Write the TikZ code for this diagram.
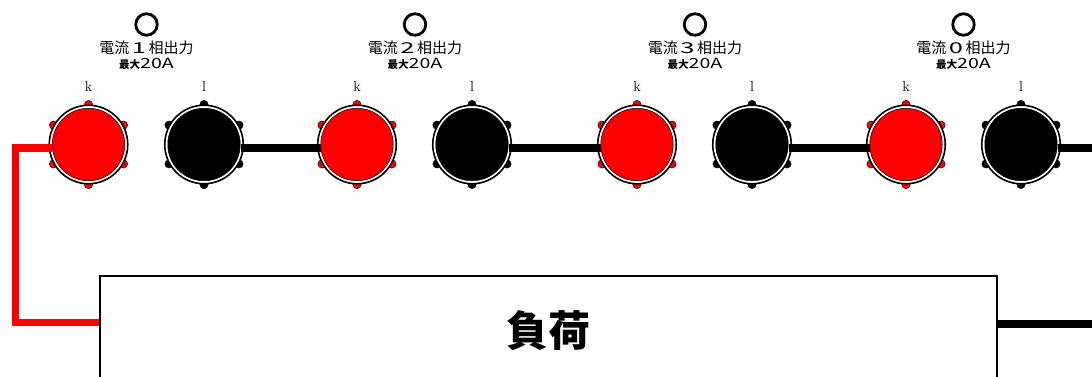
\documentclass[tikz,border=0pt]{standalone}
\usepackage{fontspec}
\newfontfamily\cjk{Noto Sans CJK JP}
\tikzset{
    lamp/.style={draw=black, line width=2.8pt, circle, inner sep=0pt, minimum size=21.5pt},
    rating/.style={inner sep=0pt, align=center, font=\cjk\fontsize{15}{16}\selectfont},
    maxamp/.style={inner sep=0pt, font=\cjk\fontsize{14}{15}\selectfont},
    polelabel/.style={inner sep=0pt, font=\fontsize{14.5}{15}\selectfont},
    ringface/.style={draw=black, line width=1.6pt, fill=white, circle, inner sep=0pt, minimum size=78.5pt},
    face/.style={draw=black, line width=0.5pt, circle, inner sep=0pt, minimum size=72.5pt},
    wire/.style={line width=7.6pt},
    loadbox/.style={draw=black, line width=1.3pt, fill=white, inner sep=0pt, minimum width=897pt, minimum height=110pt, font=\cjk\bfseries\fontsize{42}{43}\selectfont}
}
\newcommand{\terminal}[4]{%
    \foreach \ang in {29,90,151,209,270,331}
        \filldraw[draw=black, line width=0.4pt, fill=#3] (#2,144.5) ++(\ang:40pt) circle (4.2pt);
    \node[ringface] (#1o) at (#2,144.5) {};
    \node[face, fill=#3] (#1) at (#2,144.5) {};
    \node[polelabel] (#1t) at (#2,86) {#4};
}
\begin{document}
\begin{tikzpicture}[x=1pt, y=-1pt]
            \useasboundingbox (0,0) rectangle (1092,376);
            \foreach \n/\cx/\ph in {1/146.5/1, 2/415/2, 3/695/3, 4/963.5/0}{
                \node[lamp] (lamp\n) at (\cx,24.5) {};
                \node[rating] (name\n) at (\cx,48) {電流\,\scalebox{1.7}[1]{\ph}\,相出力};
                \node[maxamp] (max\n) at (\cx,64) {{\bfseries\fontsize{10.5}{11}\selectfont 最大}\scalebox{1.4}[1]{20A}};
            }
            \terminal{red1}{88.5}{red}{k}
            \terminal{blk1}{204}{black}{l}
            \terminal{red2}{357}{red}{k}
            \terminal{blk2}{472}{black}{l}
            \terminal{red3}{637}{red}{k}
            \terminal{blk3}{752}{black}{l}
            \terminal{red4}{906}{red}{k}
            \terminal{blk4}{1021}{black}{l}
            \node[loadbox] (load) at (548.5,331) {負荷};
            \coordinate (bend1) at (15.5,148);
            \coordinate (bend2) at (15.5,322.5);
            \coordinate (outtop) at (1092,148);
            \coordinate (outlow) at (1092,324);
            \draw[wire, red] ([yshift=-3.5pt]red1.west) -- (bend1) -- (bend2) -- ([yshift=8.5pt]load.west);
            \draw[wire] ([yshift=-3.5pt]blk1.east) -- ([yshift=-3.5pt]red2.west);
            \draw[wire] ([yshift=-3.5pt]blk2.east) -- ([yshift=-3.5pt]red3.west);
            \draw[wire] ([yshift=-3.5pt]blk3.east) -- ([yshift=-3.5pt]red4.west);
            \draw[wire] ([yshift=-3.5pt]blk4.east) -- (outtop);
            \draw[wire] ([yshift=7pt]load.east) -- (outlow);
        \end{tikzpicture}
\end{document}
